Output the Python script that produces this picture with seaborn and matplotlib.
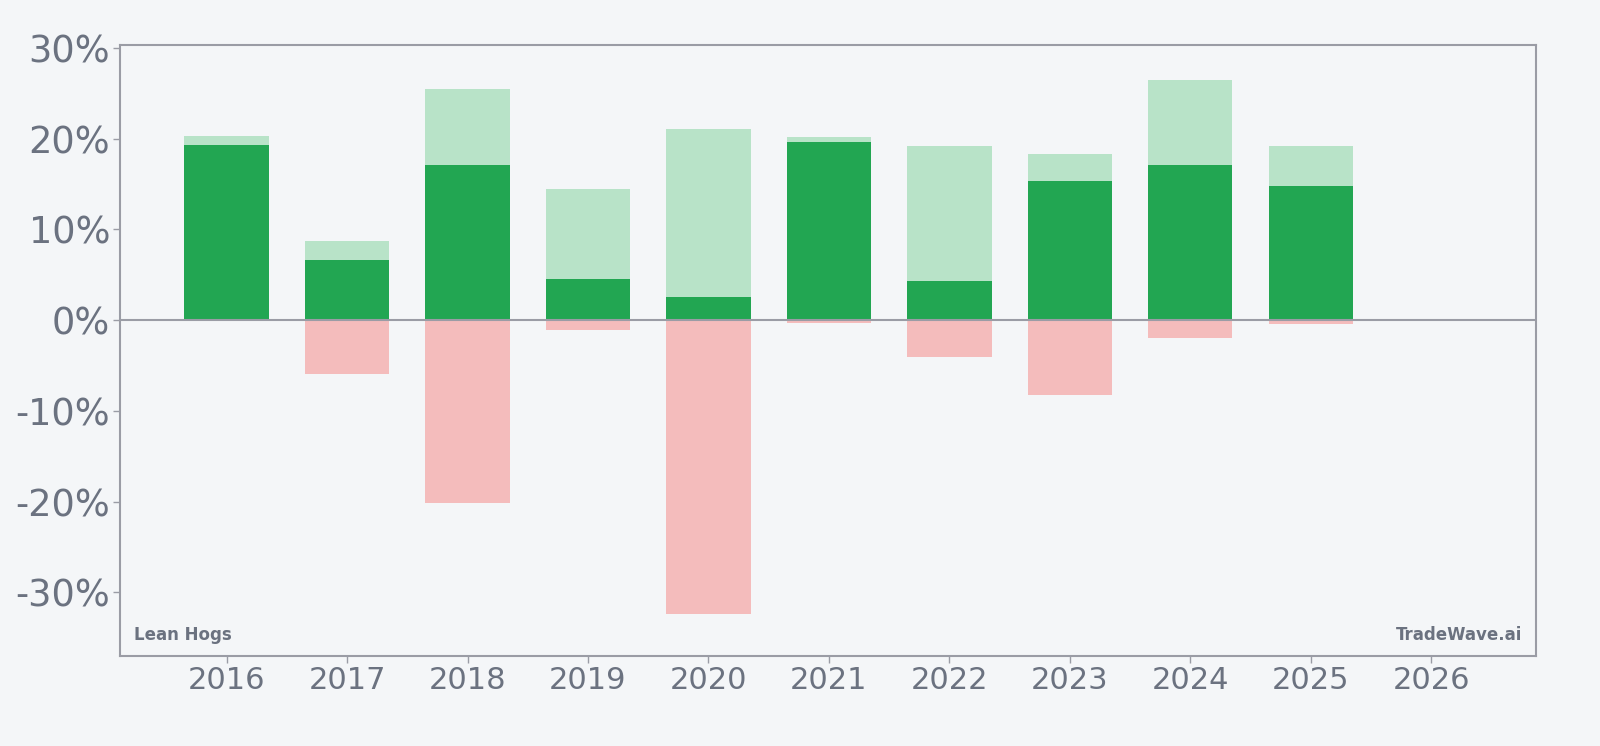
import pandas as pd
import seaborn as sns
import matplotlib
matplotlib.use('Agg')
import matplotlib.pyplot as plt
from matplotlib.ticker import FuncFormatter

years = ['2016', '2017', '2018', '2019', '2020', '2021', '2022', '2023', '2024', '2025', '2026']
max_gain = [20.3, 8.7, 25.4, 14.4, 21.1, 20.2, 19.2, 18.3, 26.4, 19.2, None]
final_ret = [19.3, 6.65, 17.1, 4.5, 2.5, 19.6, 4.3, 15.3, 17.1, 14.8, None]
max_loss = [-0.1, -5.9, -20.2, -1.1, -32.4, -0.3, -4.1, -8.2, -2.0, -0.45, None]

bg = '#f4f6f8'
txt = '#6b7280'
edge = '#9a9ca5'

df = pd.DataFrame({'year': years, 'gain': max_gain, 'ret': final_ret, 'loss': max_loss})

sns.set_style('white')
plt.rcParams['font.family'] = ['DejaVu Sans']

fig = plt.figure(figsize=(16, 7.46), dpi=100, facecolor=bg)
ax = fig.add_axes([0.075, 0.1206, 0.885, 0.8191])
ax.set_facecolor(bg)

# light green = best point of the year, dark green = year end, red = worst point
sns.barplot(data=df, x='year', y='gain', order=years, color='#b8e3c8',
            saturation=1, width=0.7, ax=ax, errorbar=None, linewidth=0)
sns.barplot(data=df, x='year', y='ret', order=years, color='#22a652',
            saturation=1, width=0.7, ax=ax, errorbar=None, linewidth=0)
sns.barplot(data=df, x='year', y='loss', order=years, color='#f4bcbc',
            saturation=1, width=0.7, ax=ax, errorbar=None, linewidth=0)

ax.axhline(0, color=edge, lw=1.5, zorder=5)

ax.set_xlim(-0.885, 10.87)
ax.set_ylim(-37.0, 30.3)
ax.set_yticks([-30, -20, -10, 0, 10, 20, 30])
ax.yaxis.set_major_formatter(FuncFormatter(lambda v, p: f'{int(v)}%'))
ax.set_xlabel('')
ax.set_ylabel('')

ax.tick_params(axis='y', labelsize=26.5, colors=edge, labelcolor=txt, length=5, width=1, pad=2)
ax.tick_params(axis='x', labelsize=22, colors=edge, labelcolor=txt, length=5, width=1, pad=2)
ax.tick_params(left=True, bottom=True)

for s in ax.spines.values():
    s.set_color(edge)
    s.set_linewidth(1.5)
    s.set_visible(True)

ax.text(0.01, 0.02, 'Lean Hogs', transform=ax.transAxes, fontsize=12,
        fontweight='bold', color=txt, ha='left', va='bottom')
ax.text(0.99, 0.02, 'TradeWave.ai', transform=ax.transAxes, fontsize=12,
        fontweight='bold', color=txt, ha='right', va='bottom')

fig.savefig('out.png', dpi=100, facecolor=bg)
